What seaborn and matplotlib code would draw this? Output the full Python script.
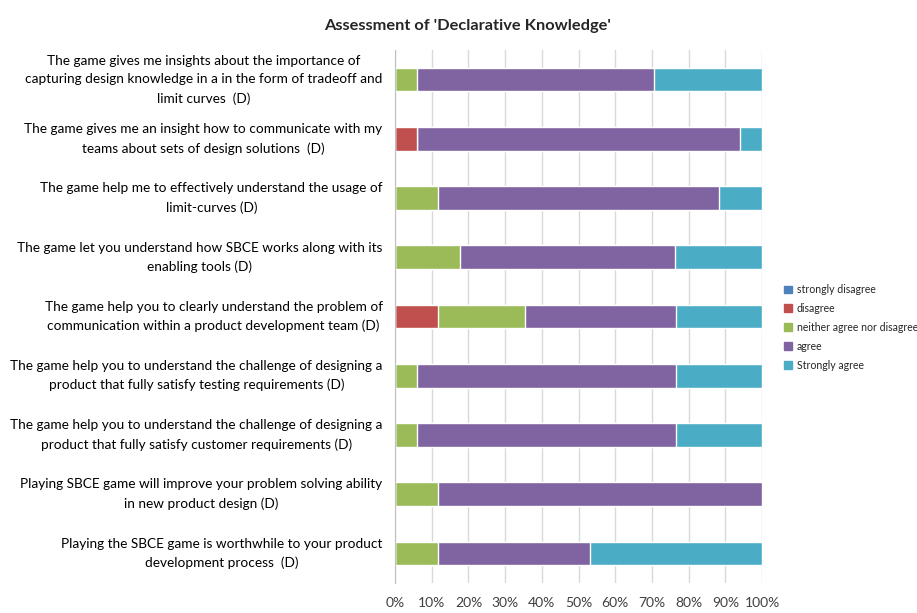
import numpy as np
import pandas as pd
import matplotlib
matplotlib.use("Agg")
import matplotlib.pyplot as plt
import matplotlib.patches as mpatches
import seaborn as sns

statements = [
    "The game gives me insights about the importance of\ncapturing design knowledge in a in the form of tradeoff and\nlimit curves  (D)",
    "The game gives me an insight how to communicate with my\nteams about sets of design solutions  (D)",
    "The game help me to effectively understand the usage of\nlimit-curves (D)",
    "The game let you understand how SBCE works along with its\nenabling tools (D)",
    "The game help you to clearly understand the problem of\ncommunication within a product development team (D)",
    "The game help you to understand the challenge of designing a\nproduct that fully satisfy testing requirements (D)",
    "The game help you to understand the challenge of designing a\nproduct that fully satisfy customer requirements (D)",
    "Playing SBCE game will improve your problem solving ability\nin new product design (D)",
    "Playing the SBCE game is worthwhile to your product\ndevelopment process  (D)",
]

# percent of answers per statement
strongly_disagree = [0, 0, 0, 0, 0, 0, 0, 0, 0]
disagree = [0, 5.9, 0, 0, 11.8, 0, 0, 0, 0]
neither = [5.9, 0, 11.8, 17.6, 23.5, 5.9, 5.9, 11.8, 11.8]
agree = [64.7, 88.2, 76.5, 58.8, 41.2, 70.6, 70.6, 88.2, 41.2]
strongly_agree = [29.4, 5.9, 11.8, 23.5, 23.5, 23.5, 23.5, 0, 47.1]

levels = ["strongly disagree", "disagree", "neither agree nor disagree", "agree", "Strongly agree"]
colors = ["#4F81BD", "#C0504D", "#9BBB59", "#8064A2", "#4BACC6"]

df = pd.DataFrame({
    "statement": statements,
    "strongly disagree": strongly_disagree,
    "disagree": disagree,
    "neither agree nor disagree": neither,
    "agree": agree,
    "Strongly agree": strongly_agree,
})
cum = df[levels].cumsum(axis=1)

sns.set_style("white")
plt.rcParams["font.family"] = ["Lato", "DejaVu Sans"]

fig = plt.figure(figsize=(9.17, 6.13), dpi=100)
ax = fig.add_axes([0.4308, 0.0489, 0.4002, 0.8695])

# stacked bars: draw cumulative totals from the back to the front
for lvl, col in reversed(list(zip(levels, colors))):
    sns.barplot(data=cum.assign(statement=df["statement"]), x=lvl, y="statement",
                order=statements, color=col, width=0.4, orient="h",
                saturation=1, ax=ax, zorder=2)

ax.set_xlim(0, 100)
ax.set_xticks(np.arange(0, 101, 10))
ax.set_xticklabels([f"{t}%" for t in range(0, 101, 10)])
ax.set_xlabel("")
ax.set_ylabel("")
ax.grid(axis="x", color="#D9D9D9", linewidth=1, zorder=0)
ax.set_axisbelow(True)
for s in ["top", "right", "bottom"]:
    ax.spines[s].set_visible(False)
ax.spines["left"].set_color("#BFBFBF")
ax.tick_params(axis="x", length=0, pad=10, labelsize=10, labelcolor="#404040")
ax.tick_params(axis="y", length=0, pad=9, labelsize=9.8, labelcolor="#000000")
for lab in ax.get_yticklabels():
    lab.set_multialignment("center")
    lab.set_verticalalignment("center")
    lab.set_linespacing(1.65)

fig.text(0.51, 0.957, "Assessment of 'Declarative Knowledge'", ha="center", va="center",
         fontsize=11.8, fontweight="bold")

handles = [mpatches.Patch(color=c, label=l) for l, c in zip(levels, colors)]
fig.legend(handles=handles, loc="upper left", bbox_to_anchor=(0.845, 0.552), frameon=False,
           fontsize=7.6, handlelength=0.75, handleheight=0.75, handletextpad=0.4, labelspacing=0.75)

fig.savefig("out.png", dpi=100)
